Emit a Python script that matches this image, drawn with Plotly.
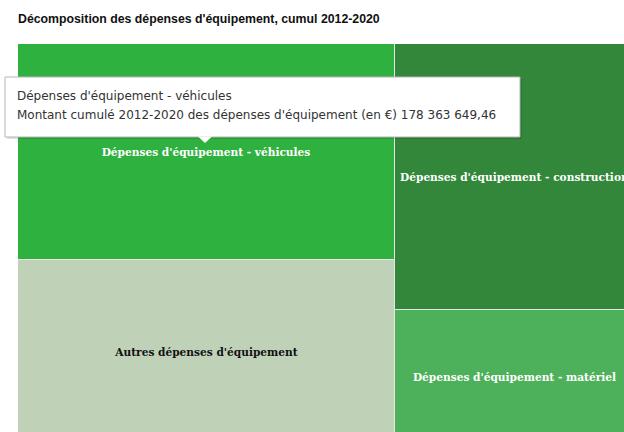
import plotly.graph_objects as go

# Cumulative 2012-2020 equipment spending (EUR)
categories = [
    "Dépenses d'équipement - véhicules",
    "Autres dépenses d'équipement",
    "Dépenses d'équipement - construction",
    "Dépenses d'équipement - matériel",
]
amounts = [178363649.46, 151912000.0, 139830000.0, 70430000.0]
column_of = [0, 0, 1, 1]  # two stacked columns
colors = ["#2fb13f", "#bfd2b8", "#33873a", "#4db05b"]
label_colors = ["white", "#111111", "white", "white"]

# Two-column slice layout: column width ∝ column total, cell height ∝ share in column
col_totals = [sum(a for a, c in zip(amounts, column_of) if c == k) for k in (0, 1)]
col_start = [0.0, col_totals[0]]

fig = go.Figure()
offset = [0.0, 0.0]
for name, amt, col, colr, lc in zip(categories, amounts, column_of, colors, label_colors):
    w = col_totals[col]
    h = amt / w
    fig.add_trace(go.Bar(
        x=[col_start[col] + w / 2], y=[h], base=[offset[col]], width=[w],
        marker=dict(color=colr, line=dict(color="#e6e6e6", width=1)),
        text=[f"<b>{name}</b>"], textposition="inside", insidetextanchor="middle",
        textangle=0,
        textfont=dict(family="DejaVu Serif, Liberation Serif, serif", size=10.6, color=lc),
        hoverinfo="skip", showlegend=False, cliponaxis=True,
    ))
    offset[col] += h

# Visible window of the treemap
view_w = col_totals[0] * 606 / 377
view_h = 388 / 400

fig.update_layout(
    width=624, height=432,
    margin=dict(l=18, r=0, t=44, b=0),
    paper_bgcolor="white", plot_bgcolor="white",
    barmode="overlay", bargap=0,
    uniformtext=dict(minsize=10.6, mode="show"),
    xaxis=dict(range=[0, view_w], visible=False, fixedrange=True),
    yaxis=dict(range=[view_h, 0], visible=False, fixedrange=True),
    title=dict(
        text="<b>Décomposition des dépenses d'équipement, cumul 2012-2020</b>",
        x=18 / 624, xanchor="left", y=1 - 18.5 / 432, yanchor="middle",
        font=dict(family="Liberation Sans Narrow, Liberation Sans, Arial Narrow, sans-serif",
                  size=12.3, color="#111111"),
    ),
)

# Tooltip for the hovered vehicle cell
def px(x):
    return (x - 18) / 606

def py(y):
    return 1 - (y - 44) / 388

fig.add_shape(type="rect", xref="paper", yref="paper",
              x0=px(7), x1=px(522), y0=py(79), y1=py(139),
              fillcolor="rgba(0,0,0,0.12)", line=dict(width=0), layer="above")
fig.add_shape(type="rect", xref="paper", yref="paper",
              x0=px(5), x1=px(520), y0=py(77), y1=py(137),
              fillcolor="white", line=dict(color="#b5b5b5", width=1), layer="above")
fig.add_shape(type="path", xref="paper", yref="paper",
              path=f"M {px(198)} {py(136.5)} L {px(212)} {py(136.5)} L {px(205)} {py(143)} Z",
              fillcolor="white", line=dict(width=0), layer="above")

value_fr = f"{amounts[0]:,.2f}".replace(",", " ").replace(".", ",")
tip_font = dict(family="DejaVu Sans, Verdana, sans-serif", size=12, color="#333333")
fig.add_annotation(xref="paper", yref="paper", x=px(15), y=py(96),
                   xanchor="left", yanchor="middle", showarrow=False,
                   text=categories[0], font=tip_font)
fig.add_annotation(xref="paper", yref="paper", x=px(15), y=py(115),
                   xanchor="left", yanchor="middle", showarrow=False,
                   text=f"Montant cumulé 2012-2020 des dépenses d'équipement (en €) {value_fr}",
                   font=tip_font)

fig.write_html("out.html")
